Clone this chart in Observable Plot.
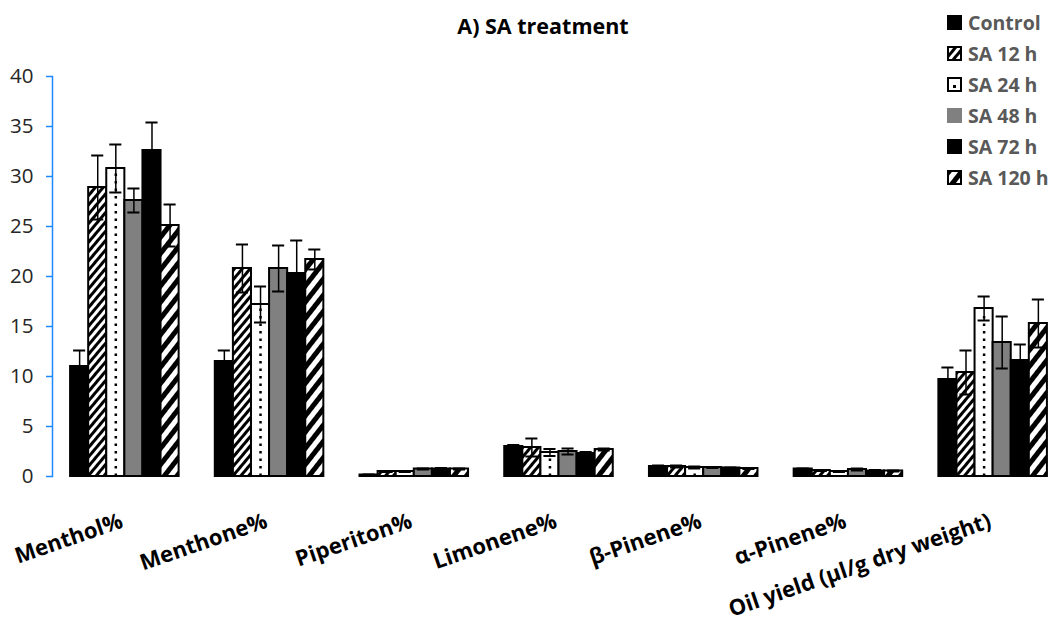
<!DOCTYPE html>
<html>
<head>
<meta charset="utf-8">
<script src="https://cdn.jsdelivr.net/npm/d3@7"></script>
<script src="https://cdn.jsdelivr.net/npm/@observablehq/plot@0.6"></script>
<style>
  html, body { margin: 0; padding: 0; background: #fff; }
  #wrap { position: relative; width: 1057px; height: 624px; font-family: "Open Sans", sans-serif; }
  #title { position: absolute; left: 0; width: 1086px; top: 11px; text-align: center; font-weight: bold; font-size: 21.5px; color: #000; }
  #legend { position: absolute; left: 947px; top: 7px; }
  .row { display: flex; align-items: center; height: 31px; font-weight: bold; font-size: 19.5px; color: #595959; white-space: nowrap; }
  .row svg { margin-right: 6px; }
  svg [aria-label="fx-axis tick label"] text { font-weight: bold; }
</style>
</head>
<body>
<svg width="0" height="0" style="position:absolute">
  <defs>
    <pattern id="p12" patternUnits="userSpaceOnUse" width="6" height="6" patternTransform="rotate(40)">
      <rect width="6" height="6" fill="white"/>
      <rect width="3" height="6" fill="black"/>
    </pattern>
    <pattern id="p120" patternUnits="userSpaceOnUse" width="10" height="10" patternTransform="rotate(38)">
      <rect width="10" height="10" fill="white"/>
      <rect width="5" height="10" fill="black"/>
    </pattern>
  </defs>
</svg>
<div id="wrap">
  <div id="title">A) SA treatment</div>
  <div id="legend"></div>
  <div id="chart"></div>
</div>
<script>
const categories = ["Menthol%", "Menthone%", "Piperiton%", "Limonene%", "β-Pinene%", "α-Pinene%", "Oil yield (µl/g dry weight)"];
const series = ["Control", "SA 12 h", "SA 24 h", "SA 48 h", "SA 72 h", "SA 120 h"];
const yTicks = [0, 5, 10, 15, 20, 25, 30, 35, 40];

const control = [11.0, 11.5, 0.15, 3.0, 1.0, 0.75, 9.7];
const sa12    = [28.9, 20.8, 0.5, 2.9, 1.0, 0.6, 10.4];
const sa24    = [30.8, 17.2, 0.5, 2.4, 0.9, 0.5, 16.8];
const sa48    = [27.6, 20.8, 0.75, 2.5, 0.9, 0.7, 13.4];
const sa72    = [32.6, 20.3, 0.75, 2.3, 0.85, 0.55, 11.6];
const sa120   = [25.1, 21.7, 0.75, 2.7, 0.8, 0.55, 15.3];

const controlErr = [1.6, 1.1, 0.05, 0.15, 0.1, 0.05, 1.2];
const sa12Err    = [3.2, 2.4, 0.05, 0.9, 0.1, 0.05, 2.2];
const sa24Err    = [2.4, 1.8, 0.05, 0.35, 0.1, 0.05, 1.2];
const sa48Err    = [1.2, 2.3, 0.05, 0.3, 0.05, 0.1, 2.6];
const sa72Err    = [2.8, 3.3, 0.1, 0.15, 0.05, 0.1, 1.6];
const sa120Err   = [2.1, 1.0, 0.05, 0.1, 0.05, 0.05, 2.4];

const seriesValues = [control, sa12, sa24, sa48, sa72, sa120];
const seriesErrors = [controlErr, sa12Err, sa24Err, sa48Err, sa72Err, sa120Err];
const fills = ["black", "url(#p12)", "white", "#808080", "black", "url(#p120)"];

const data = categories.flatMap((c, i) => series.map((s, j) => ({
  cat: c, series: s, value: seriesValues[j][i], err: seriesErrors[j][i]
})));

const barMarks = series.map((s, j) => Plot.barY(data.filter(d => d.series === s), {
  fx: "cat", x: "series", y: "value", fill: fills[j], stroke: "black", strokeWidth: 2
}));

const chart = Plot.plot({
  width: 1057,
  height: 624,
  marginLeft: 52,
  marginRight: -8,
  marginTop: 76,
  marginBottom: 148,
  style: { fontFamily: "Open Sans, sans-serif", background: "transparent", overflow: "visible" },
  fx: { domain: categories, paddingInner: 0, paddingOuter: 0, round: false },
  x: { domain: series, paddingInner: 0, paddingOuter: 1.0, axis: null, round: false },
  y: { domain: [0, 40] },
  marks: [
    ...barMarks,
    Plot.ruleX(data.filter(d => d.series === "SA 24 h"), {
      fx: "cat", x: "series", y1: 0, y2: d => d.value - 0.4, stroke: "black", strokeWidth: 2.5, strokeDasharray: "2.5 5"
    }),
    Plot.ruleX(data, { fx: "cat", x: "series", y1: d => d.value - d.err, y2: d => d.value + d.err, stroke: "black", strokeWidth: 1.5 }),
    Plot.tickY(data, { fx: "cat", x: "series", y: d => d.value + d.err, insetLeft: 3, insetRight: 3, stroke: "black", strokeWidth: 2 }),
    Plot.tickY(data, { fx: "cat", x: "series", y: d => d.value - d.err, insetLeft: 3, insetRight: 3, stroke: "black", strokeWidth: 2 }),
    Plot.frame({ anchor: "left", facetAnchor: "left", stroke: "#1e88ff", strokeWidth: 1.5 }),
    Plot.axisY({ ticks: yTicks, tickSize: 6, tickPadding: 13, stroke: "#1e88ff", strokeWidth: 1.5, fill: "#262626", fontSize: 20.5, label: null, strokeOpacity: 1 }),
    Plot.axisFx({ anchor: "bottom", tickRotate: -19, tickSize: 0, tickPadding: 44, dx: -3, fontSize: 22, fontWeight: "bold", fill: "black", label: null })
  ]
});
document.getElementById("chart").appendChild(chart);

// legend
const legend = document.getElementById("legend");
series.forEach((s, j) => {
  const row = document.createElement("div");
  row.className = "row";
  const ns = "http://www.w3.org/2000/svg";
  const sw = document.createElementNS(ns, "svg");
  sw.setAttribute("width", 15); sw.setAttribute("height", 15);
  const r = document.createElementNS(ns, "rect");
  r.setAttribute("x", 1); r.setAttribute("y", 1); r.setAttribute("width", 13); r.setAttribute("height", 13);
  r.setAttribute("fill", fills[j]);
  r.setAttribute("stroke", fills[j] === "#808080" ? "#808080" : "black");
  r.setAttribute("stroke-width", 2);
  sw.appendChild(r);
  if (s === "SA 24 h") {
    const dot = document.createElementNS(ns, "rect");
    dot.setAttribute("x", 6); dot.setAttribute("y", 8); dot.setAttribute("width", 3); dot.setAttribute("height", 3);
    dot.setAttribute("fill", "black");
    sw.appendChild(dot);
  }
  row.appendChild(sw);
  row.appendChild(document.createTextNode(s));
  legend.appendChild(row);
});
</script>
</body>
</html>
